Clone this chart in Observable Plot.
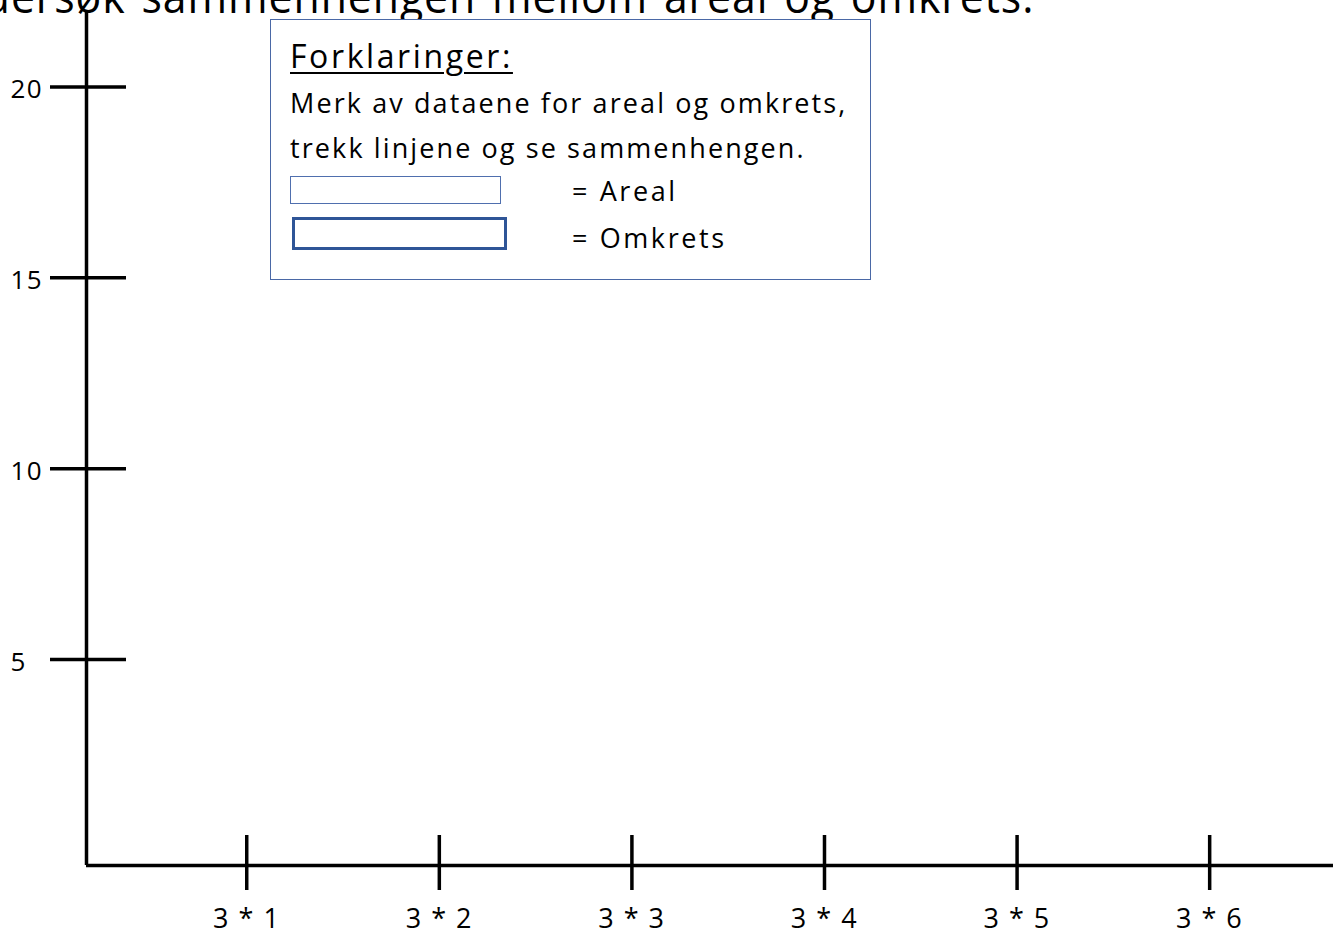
<!DOCTYPE html>
<html>
<head>
<meta charset="utf-8">
<script src="https://cdn.jsdelivr.net/npm/d3@7"></script>
<script src="https://cdn.jsdelivr.net/npm/@observablehq/plot@0.6"></script>
<style>
  html, body { margin: 0; padding: 0; background: #fff; overflow: hidden; }
  #wrap { position: relative; width: 1341px; height: 936px; font-family: "Open Sans", sans-serif; color: #000; }
  #title { position: absolute; right: 307px; top: -36px; font-size: 46px; white-space: nowrap; letter-spacing: 1px; word-spacing: 4px; transform: scaleX(0.93); transform-origin: right center; }
  #legend { position: absolute; left: 270px; top: 19px; width: 601px; height: 261px; border: 1px solid #4a68a6; box-sizing: border-box; background: #fff; }
  #legend .head { position: absolute; left: 19px; top: 14px; font-size: 32px; letter-spacing: 2.6px; text-decoration: underline; text-decoration-thickness: 2px; text-underline-offset: 4px; white-space: nowrap; }
  #legend .line { position: absolute; left: 19px; font-size: 27px; letter-spacing: 2.1px; white-space: nowrap; }
  #legend .sw { position: absolute; box-sizing: border-box; }
  #legend .lab { position: absolute; left: 301px; font-size: 27px; letter-spacing: 2.6px; white-space: nowrap; }
</style>
</head>
<body>
<div id="wrap">
  <div id="chart"></div>
  <div id="title"></div>
  <div id="legend"></div>
</div>
<script>
// ---- data ----
const titleText = "Undersøk sammenhengen mellom areal og omkrets.";
const legendHead = "Forklaringer:";
const legendLines = ["Merk av dataene for areal og omkrets,", "trekk linjene og se sammenhengen."];
const seriesNames = ["Areal", "Omkrets"];
const xMultipliers = [1, 2, 3, 4, 5, 6];
const xFactor = 3;
const yTicks = [5, 10, 15, 20];

// scale domains
const xDomain = [0.168, 6.643];
const yDomain = [-0.393, 21.95];

const chart = Plot.plot({
  width: 1341,
  height: 936,
  marginLeft: 86,
  marginRight: 8,
  marginTop: 12,
  marginBottom: 71,
  style: { fontFamily: "Open Sans, sans-serif", background: "transparent", overflow: "visible" },
  x: { type: "linear", domain: xDomain, axis: null },
  y: { type: "linear", domain: yDomain, axis: null },
  marks: [
    // axis lines
    Plot.ruleX([xDomain[0]], { stroke: "#000", strokeWidth: 3.5 }),
    Plot.ruleY([yDomain[0]], { stroke: "#000", strokeWidth: 3.5 }),
    // y tick marks crossing the axis
    Plot.ruleY(yTicks, { y: d => d, x1: () => xDomain[0], x2: () => xDomain[0], insetLeft: -36, insetRight: -40, stroke: "#000", strokeWidth: 3.5 }),
    // x tick marks crossing the axis
    Plot.ruleX(xMultipliers, { x: d => d, y1: () => yDomain[0], y2: () => yDomain[0], insetTop: -30, insetBottom: -25, stroke: "#000", strokeWidth: 3.5 }),
    // y tick labels
    Plot.text(yTicks, { x: () => xDomain[0], y: d => d, text: d => String(d), dx: -76, dy: 3, textAnchor: "start", fontSize: 26, fill: "#000" }),
    // x tick labels
    Plot.text(xMultipliers, { x: d => d, y: () => yDomain[0], text: d => `${xFactor} * ${d}`, dy: 54, fontSize: 27, fill: "#000" })
  ]
});
chart.querySelectorAll("text").forEach(t => t.setAttribute("letter-spacing", "1.5"));
document.getElementById("chart").appendChild(chart);

document.getElementById("title").textContent = titleText;

const lg = document.getElementById("legend");
const head = document.createElement("div");
head.className = "head"; head.textContent = legendHead; lg.appendChild(head);
legendLines.forEach((t, i) => {
  const d = document.createElement("div");
  d.className = "line"; d.textContent = t; d.style.top = (64 + i * 45) + "px";
  lg.appendChild(d);
});
const swStyles = [
  { left: 19, top: 156, width: 211, height: 28, border: "1.5px solid #4f6fae" },
  { left: 21, top: 197, width: 215, height: 33, border: "3.5px solid #2f5597" }
];
seriesNames.forEach((name, i) => {
  const s = document.createElement("div");
  s.className = "sw";
  const st = swStyles[i];
  Object.assign(s.style, { left: st.left + "px", top: st.top + "px", width: st.width + "px", height: st.height + "px", border: st.border });
  lg.appendChild(s);
  const l = document.createElement("div");
  l.className = "lab"; l.textContent = "= " + name; l.style.top = (152 + i * 47) + "px";
  lg.appendChild(l);
});
</script>
</body>
</html>
